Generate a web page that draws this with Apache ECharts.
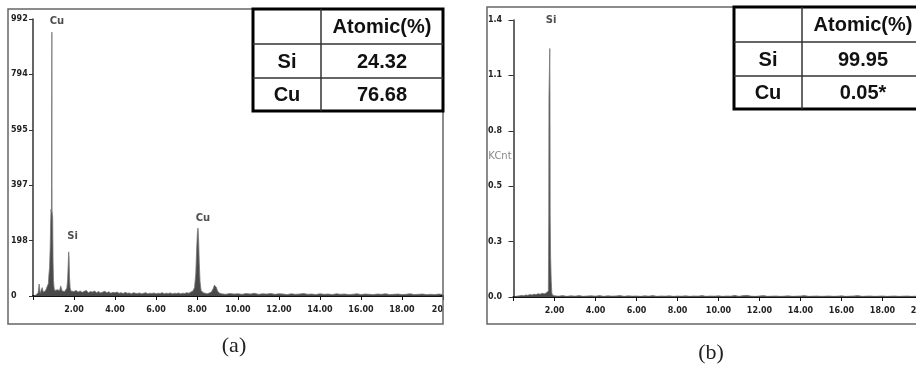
<!DOCTYPE html>
<html><head><meta charset="utf-8">
<script src="https://cdn.jsdelivr.net/npm/echarts@6/dist/echarts.min.js"></script>
<style>html,body{margin:0;padding:0;background:#fff}#c{width:916px;height:367px}</style>
</head><body><div id="c"></div>
<script>
// ---- data (energy keV, counts) ----
const spectrumA = [
[0.05,0],[0.15,4],[0.25,12],[0.30,43],[0.35,10],[0.40,16],[0.45,30],[0.50,14],[0.55,20],[0.60,18],
[0.65,26],[0.70,22],[0.75,45],[0.78,80],[0.81,104],[0.84,180],[0.86,260],[0.88,311],[0.90,300],[0.92,945],
[0.93,305],[0.96,280],[0.98,120],[1.00,55],[1.03,28],[1.06,20],[1.10,26],[1.15,18],[1.20,22],[1.25,24],
[1.30,20],[1.35,36],[1.38,30],[1.42,18],[1.48,22],[1.54,16],[1.60,20],[1.65,28],[1.69,60],[1.72,120],
[1.74,158],[1.76,140],[1.78,70],[1.81,30],[1.85,18],[1.90,22],[2.0,16],[2.1,20],[2.2,14],[2.3,18],
[2.4,13],[2.5,17],[2.6,20],[2.7,12],[2.8,16],[2.9,14],[3.0,18],[3.1,12],[3.2,16],[3.3,11],
[3.4,14],[3.5,17],[3.6,12],[3.7,15],[3.8,10],[3.9,13],[4.0,12],[4.1,14],[4.2,10],[4.3,12],
[4.4,9],[4.5,13],[4.6,10],[4.7,11],[4.8,8],[4.9,12],[5.0,10],[5.1,9],[5.2,11],[5.3,8],
[5.4,10],[5.5,12],[5.6,8],[5.7,10],[5.8,9],[5.9,11],[6.0,8],[6.1,10],[6.2,9],[6.3,12],
[6.4,8],[6.5,10],[6.6,9],[6.7,11],[6.8,8],[6.9,10],[7.0,9],[7.1,11],[7.2,8],[7.3,10],
[7.4,9],[7.5,12],[7.6,10],[7.7,14],[7.8,18],[7.88,30],[7.94,80],[7.98,160],[8.02,230],[8.05,243],
[8.08,200],[8.11,120],[8.15,50],[8.2,20],[8.3,12],[8.4,10],[8.5,8],[8.6,11],[8.7,14],[8.8,28],
[8.85,39],[8.9,35],[8.95,30],[9.0,18],[9.1,10],[9.2,8],[9.4,6],[9.6,9],[9.8,7],[10.0,8],
[10.2,6],[10.4,9],[10.6,7],[10.8,10],[11.0,6],[11.2,8],[11.4,7],[11.6,9],[11.8,6],[12.0,8],
[12.2,7],[12.4,5],[12.6,8],[12.8,6],[13.0,7],[13.2,9],[13.4,6],[13.6,7],[13.8,5],[14.0,8],
[14.2,6],[14.4,7],[14.6,5],[14.8,8],[15.0,6],[15.2,7],[15.4,5],[15.6,6],[15.8,8],[16.0,5],
[16.2,7],[16.4,6],[16.6,5],[16.8,7],[17.0,6],[17.2,8],[17.4,5],[17.6,6],[17.8,7],[18.0,5],
[18.2,6],[18.4,8],[18.6,5],[18.8,6],[19.0,7],[19.2,5],[19.4,6],[19.6,5],[19.8,7],[20.0,5]
];
const spectrumB = [
[0.05,0],[0.15,0.004],[0.3,0.006],[0.4,0.008],[0.5,0.006],[0.6,0.010],[0.7,0.008],[0.8,0.012],[0.9,0.010],[1.0,0.014],
[1.1,0.012],[1.2,0.016],[1.3,0.014],[1.4,0.018],[1.5,0.016],[1.6,0.020],[1.68,0.025],[1.70,0.03],[1.71,0.20],[1.72,0.40],
[1.73,0.98],[1.76,0.98],[1.77,1.22],[1.78,0.98],[1.79,0.40],[1.81,0.20],[1.84,0.08],[1.87,0.02],[1.9,0.010],[2.0,0.006],
[2.2,0.004],[2.4,0.007],
[2.6,0.003],[2.8,0.006],[3.0,0.004],[3.2,0.007],[3.4,0.003],[3.6,0.005],[3.8,0.006],[4.0,0.004],[4.2,0.007],[4.4,0.003],
[4.6,0.006],[4.8,0.004],[5.0,0.005],[5.2,0.007],[5.4,0.003],[5.6,0.006],[5.8,0.004],[6.0,0.005],[6.2,0.003],[6.4,0.006],
[6.6,0.004],[6.8,0.007],[7.0,0.003],[7.2,0.005],[7.4,0.004],[7.6,0.006],[7.8,0.003],[8.0,0.005],[8.2,0.004],[8.4,0.006],
[8.6,0.003],[8.8,0.005],[9.0,0.004],[9.2,0.007],[9.4,0.003],[9.6,0.005],[9.8,0.004],[10.0,0.006],[10.2,0.003],[10.4,0.005],
[10.6,0.004],[10.8,0.008],[11.0,0.003],[11.2,0.007],[11.4,0.008],[11.6,0.004],[11.8,0.003],[12.0,0.005],[12.2,0.007],[12.4,0.003],
[12.6,0.004],[12.8,0.005],[13.0,0.003],[13.2,0.004],[13.4,0.006],[13.6,0.003],[13.8,0.004],[14.0,0.005],[14.2,0.007],[14.4,0.003],
[14.6,0.004],[14.8,0.005],[15.0,0.003],[15.2,0.004],[15.4,0.005],[15.6,0.003],[15.8,0.004],[16.0,0.006],[16.2,0.003],[16.4,0.004],
[16.6,0.005],[16.8,0.007],[17.0,0.003],[17.2,0.004],[17.4,0.005],[17.6,0.003],[17.8,0.004],[18.0,0.005],[18.2,0.003],[18.4,0.004],
[18.6,0.005],[18.8,0.003],[19.0,0.004],[19.2,0.005],[19.4,0.003],[19.6,0.004],[19.8,0.005],[20.0,0.003]
];
// peak annotations: [text, keV, value at label centre]
const peakLabelsA = [['Cu',1.17,985],['Si',1.93,215],['Cu',8.29,279]];
const peakLabelsB = [['Si',1.83,1.36]];
const yTicksA = ['0','198','397','595','794','992'];
const yTicksB = ['0.0','0.3','0.5','0.8','1.1','1.4'];
const xTicksA = ['','2.00','4.00','6.00','8.00','10.00','12.00','14.00','16.00','18.00','20'];
const xTicksB = ['','2.00','4.00','6.00','8.00','10.00','12.00','14.00','16.00','18.00','20.00'];
const tableHeader = ['', 'Atomic(%)'];
const tableRowsA = [['Si','24.32'],['Cu','76.68']];
const tableRowsB = [['Si','99.95'],['Cu','0.05*']];
const captions = ['(a)','(b)'];
const yNameB = 'KCnt';

// ---- chart ----
const chart = echarts.init(document.getElementById('c'), null, {renderer:'canvas'});
const lblFont = {fontFamily:'DejaVu Sans', fontWeight:'bold', fontSize:8, color:'#222'};

function xAxisCfg(idx, ticks, alignMax){
  return {type:'value', gridIndex:idx, min:0, max:20, interval:2,
    axisLine:{show:true, lineStyle:{color:'#111', width:2}},
    axisTick:{show:true, inside:false, length:4, lineStyle:{color:'#111', width:1}},
    axisLabel:Object.assign({margin:10, alignMaxLabel:alignMax, formatter:(v)=>ticks[Math.round(v/2)]}, lblFont),
    splitLine:{show:false}};
}
function yAxisCfg(idx, max, ticks, margin, tickLen){
  const iv = max/5;
  return {type:'value', gridIndex:idx, min:0, max:max, interval:iv,
    axisLine:{show:true, lineStyle:{color:'#333', width:1.5}},
    axisTick:{show:true, inside:false, length:tickLen, lineStyle:{color:'#333', width:1}},
    axisLabel:Object.assign({margin:margin, align:'left', formatter:(v)=>ticks[Math.round(v/iv)]}, lblFont),
    splitLine:{show:false}};
}
function specSeries(idx, data){
  return {type:'line', xAxisIndex:idx, yAxisIndex:idx, data:data, showSymbol:false, symbol:'none',
    lineStyle:{width:0.8, color:'#777'}, areaStyle:{color:'#4a4a4a', opacity:1}, silent:true, z:3};
}
function labelSeries(idx, list){
  return {type:'scatter', xAxisIndex:idx, yAxisIndex:idx, symbolSize:1,
    itemStyle:{color:'rgba(0,0,0,0)'}, silent:true, z:5,
    data:list.map(d=>({name:d[0], value:[d[1], d[2]]})),
    label:{show:true, position:'inside', formatter:'{b}', fontFamily:'DejaVu Sans', fontWeight:'bold', fontSize:10, color:'#222'}};
}
function table(x0, y0, rows){
  const cw=[68,122], rh=[35,34,33];
  const W=cw[0]+cw[1], H=rh[0]+rh[1]+rh[2];
  const els=[];
  els.push({type:'rect', shape:{x:x0,y:y0,width:W,height:H}, style:{fill:'#fff', stroke:'#000', lineWidth:3}, z:10});
  els.push({type:'line', shape:{x1:x0+cw[0],y1:y0,x2:x0+cw[0],y2:y0+H}, style:{stroke:'#333', lineWidth:1.5}, z:11});
  els.push({type:'line', shape:{x1:x0,y1:y0+rh[0],x2:x0+W,y2:y0+rh[0]}, style:{stroke:'#333', lineWidth:1.5}, z:11});
  els.push({type:'line', shape:{x1:x0,y1:y0+rh[0]+rh[1],x2:x0+W,y2:y0+rh[0]+rh[1]}, style:{stroke:'#333', lineWidth:1.5}, z:11});
  const all=[tableHeader].concat(rows);
  let y=y0;
  all.forEach((r,ri)=>{
    let x=x0;
    r.forEach((t,ci)=>{
      els.push({type:'text', x:x+cw[ci]/2, y:y+rh[ri]/2+1, style:{text:t, fill:'#111', font:'bold 20px "Liberation Sans", Arial', align:'center', verticalAlign:'middle'}, z:12});
      x+=cw[ci];
    });
    y+=rh[ri];
  });
  return els;
}

const graphics = [
  {type:'rect', shape:{x:8,y:9,width:435,height:315}, style:{fill:'none', stroke:'#666', lineWidth:1.5}, z:1},
  {type:'rect', shape:{x:487,y:7,width:480,height:317}, style:{fill:'none', stroke:'#666', lineWidth:1.5}, z:1},
  {type:'text', x:500, y:156, style:{text:yNameB, fill:'#888', font:'10px "DejaVu Sans"', align:'center', verticalAlign:'middle'}, z:5},
  {type:'text', x:234, y:346, style:{text:captions[0], fill:'#222', font:'22px "Liberation Serif", "Times New Roman"', align:'center', verticalAlign:'middle'}},
  {type:'text', x:711, y:353, style:{text:captions[1], fill:'#222', font:'22px "Liberation Serif", "Times New Roman"', align:'center', verticalAlign:'middle'}}
].concat(table(253,9,tableRowsA), table(734,7,tableRowsB));

chart.setOption({
  animation:false,
  backgroundColor:'#fff',
  grid:[{left:33, top:19, width:410, height:277, outerBoundsMode:'none', containLabel:false},
        {left:513.5, top:20, width:410, height:277, outerBoundsMode:'none', containLabel:false}],
  xAxis:[xAxisCfg(0, xTicksA, 'right'), xAxisCfg(1, xTicksB, null)],
  yAxis:[yAxisCfg(0, 992, yTicksA, 22, 4), yAxisCfg(1, 1.36, yTicksB, 25.5, 5)],
  series:[specSeries(0, spectrumA), specSeries(1, spectrumB), labelSeries(0, peakLabelsA), labelSeries(1, peakLabelsB)],
  graphic:graphics
});
</script></body></html>
